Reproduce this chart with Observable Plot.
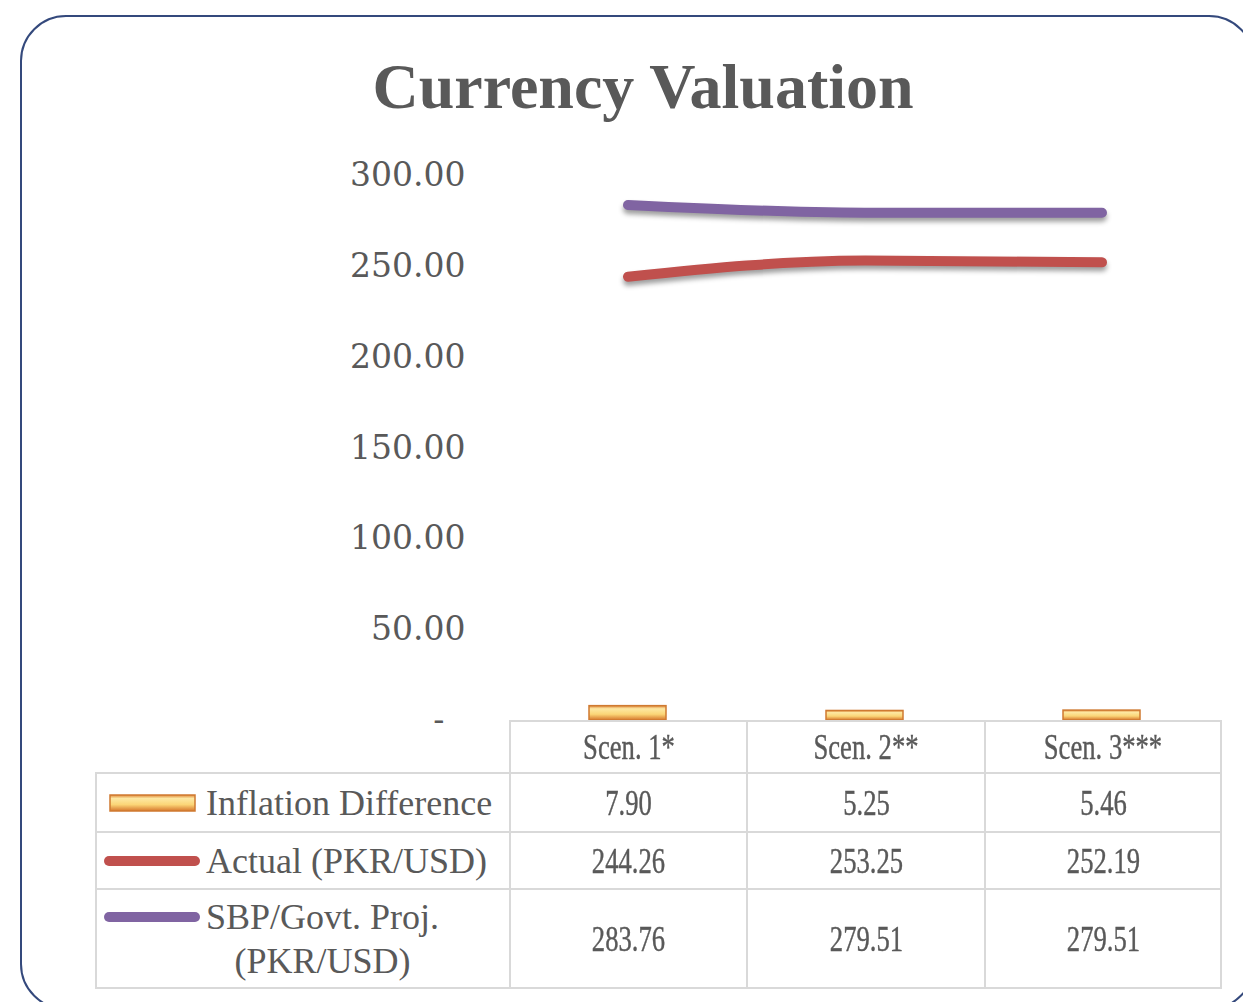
<!DOCTYPE html>
<html>
<head>
<meta charset="utf-8">
<script src="https://cdn.jsdelivr.net/npm/d3@7"></script>
<script src="https://cdn.jsdelivr.net/npm/@observablehq/plot@0.6"></script>
<style>
  html, body { margin: 0; padding: 0; background: #fff; }
  body { width: 1243px; height: 1002px; overflow: hidden; position: relative; }
  #frame { position: absolute; left: 20px; top: 15px; width: 1235px; height: 995px;
           border: 2px solid #34497c; border-radius: 46px; box-sizing: border-box; }
  #title { position: absolute; left: 0; width: 1286px; top: 55px; text-align: center;
           font-family: "Liberation Serif", serif; font-weight: bold; font-size: 64px;
           line-height: 63px; color: #595959; }
  #chart { position: absolute; left: 0; top: 150px; }
  #chart svg g[aria-label="line"] { filter: drop-shadow(0px 4px 2.5px rgba(0,0,0,0.38)); }
  #tbl { position: absolute; left: 95px; top: 720px; border-collapse: collapse; table-layout: fixed;
         font-family: "Liberation Serif", serif; color: #595959; }
  #tbl td { border: 2.5px solid #d9d9d9; padding: 0; text-align: center; vertical-align: middle; }
  #tbl td.blank { border-top: none; border-left: none; }
  #tbl .num { display: inline-block; font-size: 36px; transform: scaleX(0.74); white-space: nowrap;
              -webkit-text-stroke: 0.4px #595959; }
  #tbl .lg { display: flex; align-items: flex-start; padding-left: 5px; }
  #tbl .lg svg { flex: 0 0 auto; }
  #tbl .lbl { font-size: 36px; line-height: 44px; text-align: center; white-space: nowrap; }
</style>
</head>
<body>
<svg width="0" height="0" style="position:absolute">
  <defs>
    <linearGradient id="barGrad" x1="0" y1="0" x2="0" y2="1">
      <stop offset="0%" stop-color="#e08a3c"/>
      <stop offset="22%" stop-color="#fde8a2"/>
      <stop offset="60%" stop-color="#fbd577"/>
      <stop offset="100%" stop-color="#d6772c"/>
    </linearGradient>
  </defs>
</svg>
<div id="frame"></div>
<div id="title">Currency Valuation</div>
<div id="chart"></div>
<table id="tbl"></table>
<script>
// ---- data ----
const scenarios = ["Scen. 1*", "Scen. 2**", "Scen. 3***"];
const inflationDiff = [7.90, 5.25, 5.46];
const actual = [244.26, 253.25, 252.19];
const sbpProj = [283.76, 279.51, 279.51];
const yTicks = [0, 50, 100, 150, 200, 250, 300];
const seriesNames = ["Inflation Difference", "Actual (PKR/USD)", "SBP/Govt. Proj.\n(PKR/USD)"];
const seriesColors = ["url(#barGrad)", "#c0504d", "#8064a2"];

const barData = scenarios.map((s, i) => ({scen: s, v: inflationDiff[i]}));
const actualData = scenarios.map((s, i) => ({scen: s, v: actual[i]}));
const sbpData = scenarios.map((s, i) => ({scen: s, v: sbpProj[i]}));

const chart = Plot.plot({
  width: 1243,
  height: 575,
  marginLeft: 509,
  marginRight: 23,
  marginTop: 25,
  marginBottom: 5,
  style: {background: "transparent", overflow: "visible"},
  x: {domain: scenarios, paddingInner: 0.675, paddingOuter: 0.3375, axis: null},
  y: {domain: [0, 300], ticks: yTicks, label: null},
  marks: [
    Plot.axisY({
      ticks: yTicks, tickSize: 0, tickPadding: 44, label: null,
      tickFormat: d => d === 0 ? "-\u2007" : d.toFixed(2),
      fontSize: 33, fontFamily: "DejaVu Serif", fill: "#595959"
    }),
    Plot.barY(barData, {x: "scen", y: "v", fill: seriesColors[0], stroke: "#cf7a31", strokeWidth: 1.5}),
    Plot.line(actualData, {x: "scen", y: "v", stroke: seriesColors[1], strokeWidth: 10, curve: "monotone-x", strokeLinecap: "round"}),
    Plot.line(sbpData, {x: "scen", y: "v", stroke: seriesColors[2], strokeWidth: 10, curve: "monotone-x", strokeLinecap: "round"})
  ]
});
document.getElementById("chart").appendChild(chart);

// ---- data table with legend keys ----
const tbl = d3.select("#tbl");
const colgroup = tbl.append("colgroup");
[414, 237, 238, 236].forEach(w => colgroup.append("col").style("width", w + "px"));
const rowHeights = [52, 59, 57, 99];

const head = tbl.append("tr").style("height", rowHeights[0] + "px");
head.append("td").attr("class", "blank");
scenarios.forEach(s => head.append("td").append("span").attr("class", "num").text(s));

const rows = [inflationDiff, actual, sbpProj];
rows.forEach((vals, r) => {
  const tr = tbl.append("tr").style("height", rowHeights[r + 1] + "px");
  const lg = tr.append("td").append("div").attr("class", "lg");
  const sw = lg.append("svg").attr("width", 104).attr("height", 44);
  if (r === 0) {
    sw.append("rect").attr("x", 8).attr("y", 14).attr("width", 85).attr("height", 16)
      .attr("fill", seriesColors[0]).attr("stroke", "#cf7a31").attr("stroke-width", 1.5);
  } else {
    sw.append("line").attr("x1", 7).attr("x2", 93).attr("y1", 22).attr("y2", 22)
      .attr("stroke", seriesColors[r]).attr("stroke-width", 10).attr("stroke-linecap", "round");
  }
  const lbl = lg.append("div").attr("class", "lbl");
  seriesNames[r].split("\n").forEach(line => lbl.append("div").text(line));
  vals.forEach(v => tr.append("td").append("span").attr("class", "num").text(v.toFixed(2)));
});
</script>
</body>
</html>
